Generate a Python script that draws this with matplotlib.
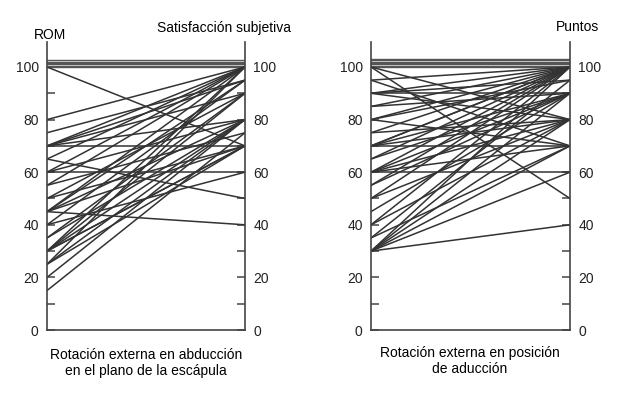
import matplotlib.pyplot as plt

plt.rcParams['font.family'] = ['Liberation Sans', 'DejaVu Sans']

# Left panel: ROM (external rotation in abduction) -> subjective satisfaction
abd_rom = [100, 100, 100, 100, 100, 100, 100, 80, 75,
           70, 70, 70, 70, 70, 65, 65, 60, 60, 60, 55, 55, 50, 50,
           45, 45, 45, 45, 45, 40, 40, 35, 35,
           30, 30, 30, 30, 30, 25, 25, 25, 20, 15]
abd_sat = [100, 100, 100, 100, 100, 100, 70, 100, 95,
           70, 100, 90, 80, 95, 100, 50, 60, 80, 100, 100, 75, 90, 70,
           40, 100, 80, 70, 95, 95, 60, 90, 80,
           100, 90, 80, 70, 70, 100, 80, 70, 80, 75]

# Right panel: ROM (external rotation in adduction) -> points
add_rom = [100, 100, 100, 100, 100, 100, 100, 100, 100,
           95, 95, 90, 90, 90, 90, 85, 85, 80, 80, 80, 75, 75,
           70, 70, 70, 70, 70, 65, 65, 60, 60, 60, 60, 60, 55, 55,
           50, 50, 45, 40, 40, 35, 35, 30, 30, 30, 30, 30, 30]
add_pts = [100, 100, 100, 100, 100, 100, 100, 80, 50,
           100, 70, 100, 90, 80, 95, 100, 90, 100, 95, 70, 100, 80,
           70, 100, 90, 100, 80, 100, 90, 60, 100, 90, 80, 70, 100, 90,
           100, 80, 90, 100, 80, 95, 70, 100, 90, 80, 70, 60, 40]

yticks = [0, 20, 40, 60, 80, 100]
line_color = '#333333'
W, H = 626, 394

fig = plt.figure(figsize=(W / 100, H / 100), dpi=100)


def draw_panel(x0, x1, start, end):
    ax = fig.add_axes([x0 / W, 1 - 330 / H, (x1 - x0) / W, (330 - 42) / H])
    stack = 0
    for a, b in zip(start, end):
        if a == 100 and b == 100:
            # tied perfect scores are drawn as a stacked band
            off = stack * 0.5
            stack += 1
            ax.plot([0, 1], [a + off, b + off], color='#555555', lw=1.0)
        else:
            ax.plot([0, 1], [a, b], color=line_color, lw=1.1)
    ax.set_xlim(0, 1)
    ax.set_ylim(0, 109.5)
    ax.spines['top'].set_visible(False)
    for s in ['left', 'right', 'bottom']:
        ax.spines[s].set_color('#444444')
        ax.spines[s].set_linewidth(1.2)
    ax.set_xticks([])
    ax.set_yticks(yticks)
    ax.set_yticks(range(10, 100, 20), minor=True)
    ax.tick_params(axis='y', which='both', direction='in', left=True, right=True,
                   labelleft=True, labelright=True, length=6, width=1.1,
                   color='#444444', labelsize=10, pad=6)
    for lab in ax.get_yticklabels():
        lab.set_color('#222222')
    return ax


draw_panel(47, 245, abd_rom, abd_sat)
draw_panel(371, 570, add_rom, add_pts)

fs = 10
fig.text(50 / W, 1 - 35 / H, 'ROM', ha='center', va='center', fontsize=fs)
fig.text(291 / W, 1 - 28 / H, 'Satisfacción subjetiva', ha='right', va='center', fontsize=fs)
fig.text(599 / W, 1 - 27 / H, 'Puntos', ha='right', va='center', fontsize=fs)
fig.text(146 / W, 1 - 363 / H, 'Rotación externa en abducción\nen el plano de la escápula',
         ha='center', va='center', fontsize=fs, linespacing=1.2)
fig.text(470 / W, 1 - 361 / H, 'Rotación externa en posición\nde aducción',
         ha='center', va='center', fontsize=fs, linespacing=1.2)

fig.savefig('out.png', dpi=100)
